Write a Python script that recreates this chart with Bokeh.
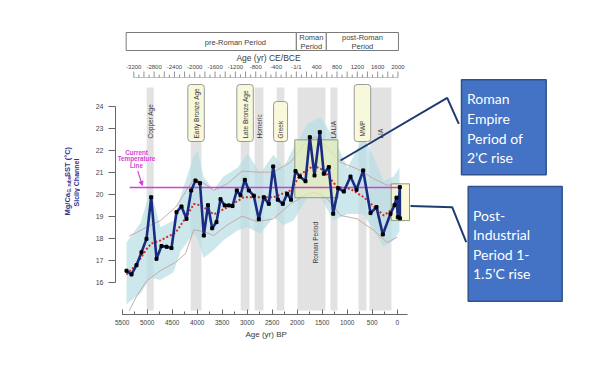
from math import pi
from bokeh.plotting import figure
from bokeh.layouts import row
from bokeh.models import Range1d, SingleIntervalTicker, Arrow, NormalHead, Title
from bokeh.core.properties import value
from bokeh.embed import file_html
from bokeh.resources import INLINE

# ---------------- data ----------------
age_bp = [5414, 5314, 5214, 5114, 5014, 4920, 4814, 4714, 4614, 4514, 4414, 4314, 4214,
          4120, 4034, 3944, 3868, 3784, 3700, 3614, 3534, 3450, 3368, 3294, 3208, 3134,
          3048, 2968, 2868, 2768, 2668, 2568, 2480, 2388, 2288, 2200, 2124, 2034, 1948,
          1834, 1748, 1654, 1548, 1468, 1368, 1280, 1180, 1068, 934, 814, 680, 534, 414,
          288, 134, 54, 14, -12, -52, -54]
sst = [16.52, 16.35, 16.77, 17.36, 17.97, 19.86, 17.06, 17.64, 17.61, 17.55, 19.18, 19.44,
       18.88, 20.17, 20.62, 20.5, 18.12, 19.5, 18.45, 18.73, 19.77, 19.49, 19.49, 19.46,
       20.17, 19.95, 20.65, 20.17, 19.93, 18.86, 19.86, 19.56, 21.26, 19.75, 19.56, 20.02,
       19.75, 21.05, 20.8, 20.59, 22.59, 20.85, 22.82, 20.93, 21.23, 19.11, 20.27, 20.12,
       20.8, 20.2, 21.08, 19.14, 19.41, 18.17, 19.11, 19.5, 19.84, 18.95, 20.32, 18.9]

trend_bp = [5414, 5214, 5014, 4920, 4734, 4434, 4234, 4068, 3934, 3800, 3668, 3400, 3068,
            2800, 2474, 2134, 1934, 1668, 1468, 1200, 934, 668, 268, 0]
trend_sst = [16.35, 16.8, 17.5, 17.75, 17.9, 18.25, 18.9, 19.55, 19.5, 19.3, 19.08, 19.4,
             19.86, 19.86, 19.86, 20.17, 20.9, 21.3, 21.08, 20.32, 20.24, 19.86, 19.03, 19.49]

env_bp = [5360, 5214, 5014, 4734, 4434, 4234, 4068, 3868, 3668, 3400, 3100, 2800, 2474,
          2134, 1800, 1634, 1400, 1134, 800, 468, 200, 0]
env_upper = [18.1, 18.25, 18.5, 18.8, 19.4, 20.1, 20.7, 20.5, 20.17, 20.47, 21.05, 21.0,
             21.0, 21.45, 22.44, 22.6, 22.14, 21.45, 21.15, 20.7, 20.4, 20.47]
env_lower = [14.7, 15.35, 16.05, 16.53, 16.9, 17.3, 18.38, 18.3, 18.12, 18.6, 19.0, 18.75,
             18.88, 19.56, 20.0, 20.1, 19.8, 19.03, 18.88, 18.35, 17.8, 18.05]

ci_bp = [5414, 5134, 4934, 4734, 4474, 4334, 4074, 3994, 3874, 3674, 3474, 3194, 2994,
         2734, 2474, 2274, 2074, 1794, 1534, 1274, 994, 674, 474, 274, 74, -46]
ci_upper = [17.8, 18.7, 20.2, 18.5, 18.8, 19.9, 21.7, 22.0, 20.8, 20.2, 20.8, 21.2, 21.85,
            20.95, 21.8, 21.2, 22.1, 23.2, 23.5, 22.6, 21.2, 22.6, 21.7, 20.6, 20.8, 21.2]
ci_lower = [15.0, 15.5, 16.2, 16.1, 16.45, 17.4, 18.2, 18.0, 17.1, 17.45, 17.9, 18.35, 18.5,
            18.2, 18.95, 18.6, 18.8, 19.86, 19.86, 18.8, 19.1, 19.1, 18.35, 17.6, 17.9, 18.3]

current_temp = 20.3
current_span_bp = [5350, -70]

band_start_bp = [5010, 4130, 3130, 2850, 2410, 1995, 1335, 775, 555]
band_end_bp = [4870, 3915, 2955, 2675, 2255, 1435, 1195, 615, 115]
band_label = ["Copper Age", "Early Bronze Age", "Late Bronze Age", "Homeric", "Greek",
              "Roman Period", "LALIA", "MWP", "LIA"]
band_boxed = [False, True, True, False, True, False, False, True, False]

period_label = [["pre-Roman Period"], ["Roman", "Period"], ["post-Roman", "Period"]]
period_start_ce = [-3350, 0, 590]
period_end_ce = [0, 590, 2010]
period_text_ce = [-1200, 295, 1300]

ce_ticks = [-3200, -2800, -2400, -2000, -1600, -1200, -800, -400, 0, 400, 800, 1200, 1600, 2000]
ce_tick_labels = ["-3200", "-2800", "-2400", "-2000", "-1600", "-1200", "-800", "-400",
                  "-1/1", "400", "800", "1200", "1600", "2000"]

highlight_left_bp = [2048, 120]
highlight_right_bp = [1186, -246]
highlight_top = [22.47, 20.47]
highlight_bottom = [19.84, 18.8]

roman_note = ["Roman", "Empire", "Period of", "2\u2019C rise"]
post_note = ["Post-", "Industrial", "Period 1-", "1.5\u2019C rise"]
current_note = ["Current", "Temperature", "Line"]

# ---------------- styling ----------------
FONT = "Liberation Sans"
MAG = "#d83cd8"
NAVY = "#33338a"
TXT = "#3a3a3a"

# left strip that carries the y-axis title (pixel coordinates, frame aligned with main plot)
yt = figure(width=80, height=363, output_backend="svg", toolbar_location=None,
            x_range=Range1d(0, 80), y_range=Range1d(314, 8),
            x_axis_location=None, y_axis_location=None,
            min_border_left=0, min_border_right=0, min_border_top=8, min_border_bottom=49)
yt.outline_line_color = None
yt.grid.visible = False
for txt, x, y, fs, al in [("Mg/Ca", 66.7, 215, "7.5px", "left"),
                          ("G. ruber", 68.8, 192, "4.5px", "left"),
                          ("SST (\u00b0C)", 66.7, 176.5, "7.5px", "left"),
                          ("Sicily Channel", 76, 182, "7px", "center")]:
    yt.text(x=[x], y=[y], text=[txt], angle=pi / 2, text_align=al, text_baseline="middle",
            text_font=value(FONT), text_font_size=fs, text_font_style="bold",
            text_color=NAVY)

p = figure(width=514, height=363, output_backend="svg", toolbar_location=None,
           x_range=Range1d(5634, -3946), y_range=Range1d(14.53, 28.44),
           min_border_left=35, min_border_right=0, min_border_top=8, min_border_bottom=49,
           background_fill_color="white", border_fill_color="white")
p.outline_line_color = None
p.xgrid.visible = False
p.ygrid.visible = False
p.extra_x_ranges = {"ce": Range1d(-3560, 5869), "sx": Range1d(115, 594)}
p.extra_y_ranges = {"sy": Range1d(314, 8)}

xa = p.xaxis[0]
xa.ticker = SingleIntervalTicker(interval=500, num_minor_ticks=2)
xa.bounds = (-200, 5500)
xa.major_label_text_font = FONT
xa.major_label_text_font_size = "6.5px"
xa.major_label_text_color = "#444"
xa.major_label_standoff = 5
xa.major_tick_in = 5
xa.major_tick_out = 0
xa.minor_tick_in = 3
xa.minor_tick_out = 0
xa.axis_line_color = "#666"
xa.major_tick_line_color = "#666"
xa.minor_tick_line_color = "#666"
p.add_layout(Title(text="Age (yr) BP", align="left", offset=130, standoff=0,
                   text_font=FONT, text_font_size="8px", text_font_style="normal",
                   text_color=TXT), "below")

ya = p.yaxis[0]
ya.ticker = SingleIntervalTicker(interval=1)
ya.bounds = (16, 24)
ya.major_tick_in = 0
ya.major_tick_out = 7
ya.minor_tick_line_color = None
ya.axis_line_color = "#666"
ya.major_tick_line_color = "#666"
ya.major_label_text_font = FONT
ya.major_label_text_font_size = "7px"
ya.major_label_text_color = "#444"
ya.major_label_standoff = 5

# gray period bands
p.quad(left=band_start_bp, right=band_end_bp, top=87, bottom=310, y_range_name="sy",
       fill_color="#e2e2e2", line_color=None)

# confidence band
p.varea(x=ci_bp, y1=ci_lower, y2=ci_upper, fill_color="#b8dee4", fill_alpha=0.7)

# envelope lines
p.line(env_bp, env_upper, line_color="#c6a2a2", line_width=0.9)
p.line(env_bp, env_lower, line_color="#c6a2a2", line_width=0.9)

# highlight boxes
p.quad(left=highlight_left_bp, right=highlight_right_bp, top=highlight_top,
       bottom=highlight_bottom, fill_color=["#e9f0b8", "#fbf6cc"], fill_alpha=0.7,
       line_color="#8e9c7a", line_width=1)

# current temperature line
p.line(current_span_bp, [current_temp, current_temp], line_color=MAG, line_width=1.5)

# trend
p.line(trend_bp, trend_sst, line_color="#d42a2a", line_width=2, line_dash="2 2")

# data
p.line(age_bp, sst, line_color="#1a2b82", line_width=2.6)
p.scatter(age_bp, sst, marker="square", size=3, fill_color="black", line_color="black")

# band labels
band_mid = [(a + b) / 2 for a, b in zip(band_start_bp, band_end_bp)]
box_top = {"Early Bronze Age": 84, "Late Bronze Age": 84, "Greek": 101, "MWP": 84}
bx_l, bx_r, bx_t = [], [], []
for m, lab, bxd in zip(band_mid, band_label, band_boxed):
    if bxd:
        half = 140 if lab == "Greek" else 165
        bx_l.append(m + half)
        bx_r.append(m - half)
        bx_t.append(box_top[lab])
p.quad(left=bx_l, right=bx_r, top=bx_t, bottom=141, y_range_name="sy",
       fill_color="#f8f8da", line_color="#9a9a9a", line_width=1, border_radius=3)

lab_x, lab_y, lab_t = [], [], []
for m, lab in zip(band_mid, band_label):
    if lab == "Roman Period":
        lab_x.append(m - 80)
        lab_y.append(263)
    else:
        lab_x.append(m)
        lab_y.append(136 if lab == "MWP" else 138)
    lab_t.append(lab)
p.text(x=lab_x, y=lab_y, text=lab_t, y_range_name="sy", angle=pi / 2,
       text_align="left", text_baseline="middle", text_font=value(FONT),
       text_font_size="6.5px", text_color=TXT)

# period header boxes
p.quad(left=period_start_ce, right=period_end_ce, top=32, bottom=50,
       x_range_name="ce", y_range_name="sy", fill_color="white",
       line_color="#7a7a7a", line_width=1)
px_, py_, pt_ = [], [], []
for xc, lines in zip(period_text_ce, period_label):
    if len(lines) == 1:
        px_.append(xc); py_.append(41.5); pt_.append(lines[0])
    else:
        px_ += [xc, xc]; py_ += [36.5, 45.5]; pt_ += lines
p.text(x=px_, y=py_, text=pt_, x_range_name="ce", y_range_name="sy",
       text_align="center", text_baseline="middle", text_font=value(FONT),
       text_font_size="7.5px", text_color="#444")

# top CE axis
p.text(x=[268], y=[57.5], text=["Age (yr) CE/BCE"], x_range_name="sx", y_range_name="sy",
       text_align="center", text_baseline="middle", text_font=value(FONT),
       text_font_size="8.5px", text_color=TXT)
p.text(x=ce_ticks, y=66.5, text=ce_tick_labels, x_range_name="ce", y_range_name="sy",
       text_align="center", text_baseline="middle", text_font=value(FONT),
       text_font_size="6px", text_color="#444")
major = list(range(-3200, 2001, 200))
minor = list(range(-3100, 2000, 200))
p.segment(x0=major, x1=major, y0=71, y1=77, x_range_name="ce", y_range_name="sy",
          line_color="#777", line_width=0.8)
p.segment(x0=minor, x1=minor, y0=74, y1=77, x_range_name="ce", y_range_name="sy",
          line_color="#777", line_width=0.8)
p.line([-3200, 2000], [77, 77], x_range_name="ce", y_range_name="sy",
       line_color="#999", line_width=0.6)

# callout boxes
p.quad(left=[461, 467.7], right=[545.7, 561.7], top=[79.3, 186], bottom=[174.3, 300.7],
       x_range_name="sx", y_range_name="sy", fill_color="#4472c4",
       line_color="#2f528f", line_width=1.5)
p.text(x=466.5, y=[98.3, 118, 137.6, 157.3], text=roman_note, x_range_name="sx",
       y_range_name="sy", text_align="left", text_baseline="middle",
       text_font=value("Lato"), text_font_size="14px", text_color="white")
p.text(x=472.5, y=[215, 234.3, 253.6, 272.9], text=post_note, x_range_name="sx",
       y_range_name="sy", text_align="left", text_baseline="middle",
       text_font=value("Lato"), text_font_size="14px", text_color="white")

# connectors
p.line([340, 446.7, 458.3], [160, 97.3, 123.3], x_range_name="sx", y_range_name="sy",
       line_color="#1f3b70", line_width=2)
p.line([410, 451.7, 465.7], [205.5, 206.7, 241.7], x_range_name="sx", y_range_name="sy",
       line_color="#1f3b70", line_width=2)

# current temperature note
p.text(x=136, y=[151.7, 158.3, 165], text=current_note, x_range_name="sx", y_range_name="sy",
       text_align="center", text_baseline="middle", text_font=value(FONT),
       text_font_size="6.3px", text_font_style="bold", text_color=MAG)
p.add_layout(Arrow(x_start=137.3, y_start=170.5, x_end=141.8, y_end=185,
                   x_range_name="sx", y_range_name="sy", line_color=MAG, line_width=1.1,
                   end=NormalHead(size=4, fill_color=MAG, line_color=MAG)))

layout = row(yt, p, spacing=0)
open("out.html", "w").write(file_html(layout, INLINE))
